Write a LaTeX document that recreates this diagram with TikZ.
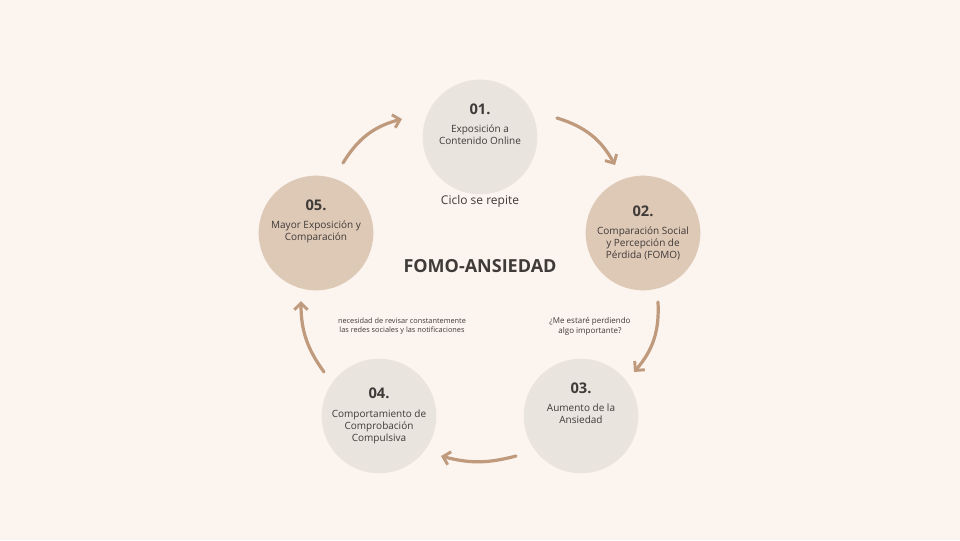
\documentclass[tikz,border=0pt]{standalone}
\usepackage{fontspec}
\setmainfont{Open Sans}
\usetikzlibrary{arrows.meta}
\definecolor{bgcol}{HTML}{FBF4EF}
\definecolor{lightcirc}{HTML}{EAE4DE}
\definecolor{tancirc}{HTML}{DEC8B6}
\definecolor{arrowcol}{HTML}{BF9A7D}
\definecolor{txtcol}{HTML}{3F3B38}
\begin{document}
\begin{tikzpicture}[x=0.75pt,y=-0.75pt,
  stepcirc/.style={circle,minimum size=86pt,inner sep=0pt,align=center,text=txtcol,font=\fontsize{7.5}{9}\selectfont},
  cyc/.style={draw=arrowcol,line width=2.4pt,line cap=round,-{Straight Barb[length=5pt,width=10pt,line width=2.2pt]}}]
  \fill[bgcol] (0,0) rectangle (960,540);
  \node[stepcirc,fill=lightcirc] (s1) at (480,137) {{\fontsize{11}{13}\selectfont\bfseries 01.}\\[5pt]Exposición a\\Contenido Online\\[10pt]};
  \node[stepcirc,fill=tancirc] (s2) at (643,233) {{\fontsize{11}{13}\selectfont\bfseries 02.}\\[5pt]Comparación Social\\y Percepción de\\Pérdida (FOMO)};
  \node[stepcirc,fill=lightcirc] (s3) at (581,416) {{\fontsize{11}{13}\selectfont\bfseries 03.}\\[5pt]Aumento de la\\Ansiedad\\[10pt]};
  \node[stepcirc,fill=lightcirc] (s4) at (379,416) {{\fontsize{11}{13}\selectfont\bfseries 04.}\\[5pt]Comportamiento de\\Comprobación\\Compulsiva};
  \node[stepcirc,fill=tancirc] (s5) at (316,233) {{\fontsize{11}{13}\selectfont\bfseries 05.}\\[5pt]Mayor Exposición y\\Comparación\\[10pt]};

  \node[text=txtcol,font=\fontsize{9}{11}\selectfont] (cycle) at (480,201) {Ciclo se repite};
  \node[text=txtcol,font=\fontsize{13.5}{16}\selectfont\bfseries] (title) at (480,266) {FOMO-ANSIEDAD};
  \node[text=txtcol,align=center,font=\fontsize{5.5}{7}\selectfont] (need) at (402,326) {necesidad de revisar constantemente\\las redes sociales y las notificaciones};
  \node[text=txtcol,align=center,font=\fontsize{6}{7.5}\selectfont] (ask) at (590,326) {¿Me estaré perdiendo\\algo importante?};

  % connectors between the steps
  \coordinate (a1) at (557,118); \coordinate (b1) at (615,165);
  \coordinate (a2) at (658,302); \coordinate (b2) at (634,372);
  \coordinate (a3) at (516,456); \coordinate (b3) at (441,456);
  \coordinate (a4) at (324,372); \coordinate (b4) at (301,301);
  \coordinate (a5) at (343,163); \coordinate (b5) at (402,119);
  \draw[cyc] (a1) to[bend left=22] (b1);
  \draw[cyc] (a2) to[bend left=22] (b2);
  \draw[cyc] (a3) to[bend left=15] (b3);
  \draw[cyc] (a4) to[bend left=18] (b4);
  \draw[cyc] (a5) to[bend left=22] (b5);
\end{tikzpicture}
\end{document}
